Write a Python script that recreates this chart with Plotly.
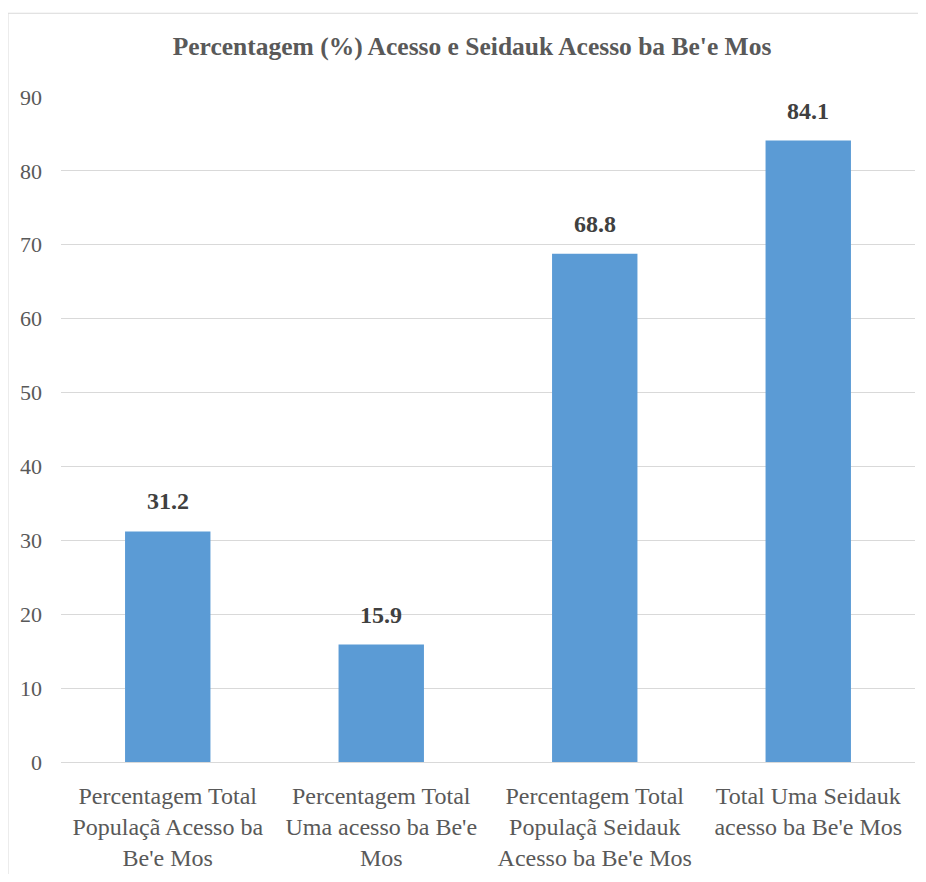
import plotly.graph_objects as go

title = "Percentagem (%) Acesso e Seidauk Acesso ba Be'e Mos"
categories = [
    "Percentagem Total<br>Populaçã Acesso ba<br>Be'e Mos",
    "Percentagem Total<br>Uma acesso ba Be'e<br>Mos",
    "Percentagem Total<br>Populaçã Seidauk<br>Acesso ba Be'e Mos",
    "Total Uma Seidauk<br>acesso ba Be'e Mos",
]
values = [31.2, 15.9, 68.8, 84.1]
y_ticks = [0, 10, 20, 30, 40, 50, 60, 70, 80, 90]

FONT = "Liberation Serif, Times New Roman, serif"

# page body has an 8px margin; figure sized/margined to compensate
W, H = 910, 866
L, R, T, B = 53, 3, 89, 110
PW, PH = W - L - R, H - T - B

fig = go.Figure()
fig.add_trace(go.Bar(
    x=categories,
    y=values,
    marker=dict(color="#5B9BD5", line=dict(width=0)),
    width=0.4,
    hoverinfo="skip",
))

for c, v in zip(categories, values):
    fig.add_annotation(
        x=c, y=v, text=f"<b>{v}</b>", showarrow=False,
        yanchor="bottom", yshift=15,
        font=dict(family=FONT, size=24, color="#404040"),
    )

fig.update_layout(
    width=W, height=H,
    margin=dict(l=L, r=R, t=T, b=B),
    paper_bgcolor="white",
    plot_bgcolor="white",
    showlegend=False,
    title=dict(
        text=f"<b>{title}</b>",
        x=(472 - 8) / W, xanchor="center", xref="container",
        y=1 - 38 / H, yref="container", yanchor="middle",
        font=dict(family=FONT, size=25.5, color="#595959"),
    ),
    font=dict(family=FONT, color="#595959"),
    xaxis=dict(
        showgrid=False, showline=True, linecolor="#d9d9d9", linewidth=1,
        ticks="", tickfont=dict(family=FONT, size=24, color="#595959"),
        ticklabelstandoff=12,
    ),
    yaxis=dict(
        range=[0, 90], tickvals=y_ticks, ticktext=[str(t) for t in y_ticks],
        showgrid=True, gridcolor="#d9d9d9", gridwidth=1,
        zeroline=False, showline=False, ticks="",
        tickfont=dict(family=FONT, size=22, color="#595959"),
        ticklabelstandoff=18,
    ),
    shapes=[dict(
        type="rect", xref="paper", yref="paper",
        x0=-L / PW, x1=1.2, y0=-0.5, y1=1 + (T - 5) / PH,
        line=dict(color="#d9d9d9", width=1), fillcolor="rgba(0,0,0,0)",
        layer="below",
    )],
)

fig.write_html("out.html")
